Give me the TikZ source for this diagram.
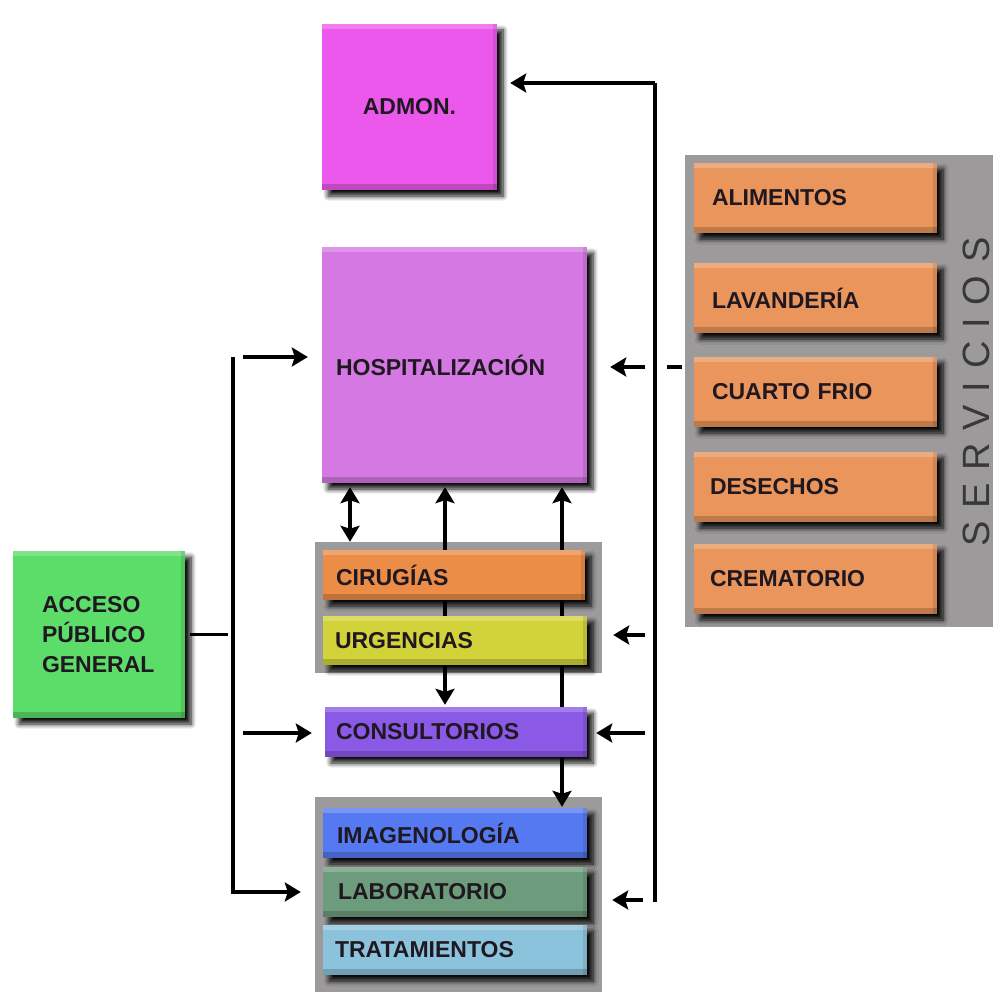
\documentclass[tikz,border=0pt]{standalone}
\usepackage{fontspec}
\setmainfont{Liberation Sans}
\usetikzlibrary{arrows.meta,shadows.blur}
\definecolor{cAdm}{HTML}{EC58EC}
\definecolor{cHosp}{HTML}{D678E4}
\definecolor{cServ}{HTML}{E9955C}
\definecolor{cCir}{HTML}{EB8C47}
\definecolor{cUrg}{HTML}{D2D23A}
\definecolor{cCons}{HTML}{8A5AE6}
\definecolor{cImg}{HTML}{5579F0}
\definecolor{cLab}{HTML}{6D9C7C}
\definecolor{cTrat}{HTML}{8CC3DC}
\definecolor{cAcc}{HTML}{5CDC68}
\definecolor{cPanel}{HTML}{9C9A9B}
\definecolor{txt}{HTML}{201820}
\definecolor{servtxt}{HTML}{383838}
\pgfdeclarelayer{front}
\pgfsetlayers{main,front}
\begin{document}
\begin{tikzpicture}[x=1pt,y=-1pt,
  box/.style={fill=#1, draw=none,
    blur shadow={shadow xshift=6pt,shadow yshift=-6pt,shadow blur steps=8,shadow blur radius=5pt,shadow opacity=95},
    path picture={
      \fill[white, opacity=0.22] (path picture bounding box.north west) rectangle ([yshift=-5pt]path picture bounding box.north east);
      \fill[black, opacity=0.18] ([yshift=6pt]path picture bounding box.south west) rectangle (path picture bounding box.south east);
      \fill[black, opacity=0.10] ([xshift=-4pt]path picture bounding box.north east) rectangle (path picture bounding box.south east);
    },
    font=\fontsize{23}{30}\selectfont\bfseries, text=txt, inner ysep=0pt},
  graypanel/.style={fill=cPanel, draw=none, inner sep=0pt},
  conn/.style={line width=3.5pt, draw=black},
  arr/.style={conn, -{Stealth[length=16pt,width=19pt,inset=3pt]}},
  darr/.style={conn, {Stealth[length=16pt,width=19pt,inset=3pt]}-{Stealth[length=16pt,width=19pt,inset=3pt]}}
]
\useasboundingbox (0,0) rectangle (1003,992);

% gray panels
\node[graypanel, minimum width=308pt, minimum height=472pt] (serv) at (839,391) {};
\node[graypanel, minimum width=287pt, minimum height=131pt] (cirpanel) at (458.5,607.5) {};
\node[graypanel, minimum width=287pt, minimum height=195pt] (imgpanel) at (458.5,894.5) {};

% boxes
\begin{pgfonlayer}{front}
\node[box=cAdm, minimum width=175pt, minimum height=166pt] (admon) at (409.5,107) {ADMON.};
\node[box=cHosp, minimum width=265pt, minimum height=236pt, inner xsep=14pt, text width=237pt, align=left] (hosp) at (454.5,365) {HOSPITALIZACIÓN};

\node[box=cServ, minimum width=243pt, minimum height=70pt, inner xsep=18pt, text width=207pt, align=left] (alim) at (815.5,198) {ALIMENTOS};
\node[box=cServ, minimum width=243pt, minimum height=70pt, inner xsep=18pt, text width=207pt, align=left] (lav) at (815.5,298) {LAVANDERÍA};
\node[box=cServ, minimum width=243pt, minimum height=70pt, inner xsep=18pt, text width=207pt, align=left] (cfrio) at (815.5,392) {CUARTO FRIO};
\node[box=cServ, minimum width=243pt, minimum height=70pt, inner xsep=16pt, text width=211pt, align=left] (des) at (815.5,487) {DESECHOS};
\node[box=cServ, minimum width=243pt, minimum height=70pt, inner xsep=16pt, text width=211pt, align=left] (crem) at (815.5,579) {CREMATORIO};
\node[rotate=90, text=servtxt, inner sep=0pt, font=\fontsize{38}{38}\selectfont\addfontfeature{LetterSpace=34}] (servlbl) at (976,392) {SERVICIOS};

\node[box=cCir, minimum width=262pt, minimum height=50pt, inner xsep=13pt, text width=236pt, align=left] (cir) at (454,575) {CIRUGÍAS};
\node[box=cUrg, minimum width=264pt, minimum height=49pt, inner xsep=12pt, text width=240pt, align=left] (urg) at (455,640.5) {URGENCIAS};
\node[box=cCons, minimum width=262pt, minimum height=50pt, inner xsep=11pt, text width=240pt, align=left] (cons) at (456,732) {CONSULTORIOS};
\node[box=cImg, minimum width=264pt, minimum height=50pt, inner xsep=14pt, text width=236pt, align=left] (img) at (455,833) {IMAGENOLOGÍA};
\node[box=cLab, minimum width=264pt, minimum height=50pt, inner xsep=15pt, text width=234pt, align=left] (lab) at (455,892) {LABORATORIO};
\node[box=cTrat, minimum width=264pt, minimum height=50pt, inner xsep=12pt, text width=240pt, align=left] (trat) at (455,950) {TRATAMIENTOS};

\node[box=cAcc, minimum width=172pt, minimum height=167pt, inner xsep=29pt, text width=114pt, align=left] (acc) at (99,634.5) {ACCESO\\PÚBLICO\\GENERAL};
\end{pgfonlayer}

% vertical connectors (behind the boxes)
\coordinate (xa) at (350,0);
\coordinate (xb) at (445,0);
\coordinate (xc) at (562,0);
\draw[darr, shorten <=4pt] (hosp.south -| xa) -- (cirpanel.north -| xa);
\draw[darr, shorten <=4pt, shorten >=2pt] (hosp.south -| xb) -- (cons.north -| xb);
\draw[darr, shorten <=4pt, shorten >=1pt] (hosp.south -| xc) -- (img.north -| xc);

% right bus
\coordinate (rt) at (655,83);
\coordinate (rb) at (655,902);
\draw[conn] (rt) -- (rb);
\draw[arr, shorten >=13pt] (rt) -- (admon.east |- rt);
\coordinate (rh) at (645,367);
\draw[arr, shorten >=23pt] (rh) -- (hosp.east |- rh);
\coordinate (dh) at (667,367);
\draw[conn, shorten >=3pt] (dh) -- (serv.west |- dh);
\coordinate (ru) at (645,635);
\draw[arr, shorten >=26pt] (ru) -- (urg.east |- ru);
\coordinate (rc) at (645,733);
\draw[arr, shorten >=9pt] (rc) -- (cons.east |- rc);
\coordinate (rl) at (643,900);
\draw[arr, shorten >=25pt] (rl) -- (lab.east |- rl);

% left bus
\coordinate (lt) at (233,357);
\coordinate (lb) at (233,892);
\draw[arr, shorten >=14pt] (lt) -- (lb) -- (imgpanel.west |- lb);
\coordinate (lh) at (243,357);
\draw[arr, shorten >=14pt] (lh) -- (hosp.west |- lh);
\coordinate (lc) at (243,733);
\draw[arr, shorten >=13pt] (lc) -- (cons.west |- lc);
\draw[conn, shorten <=5pt, shorten >=5pt] (acc.east) -- (lt |- acc.east);
\end{tikzpicture}
\end{document}
